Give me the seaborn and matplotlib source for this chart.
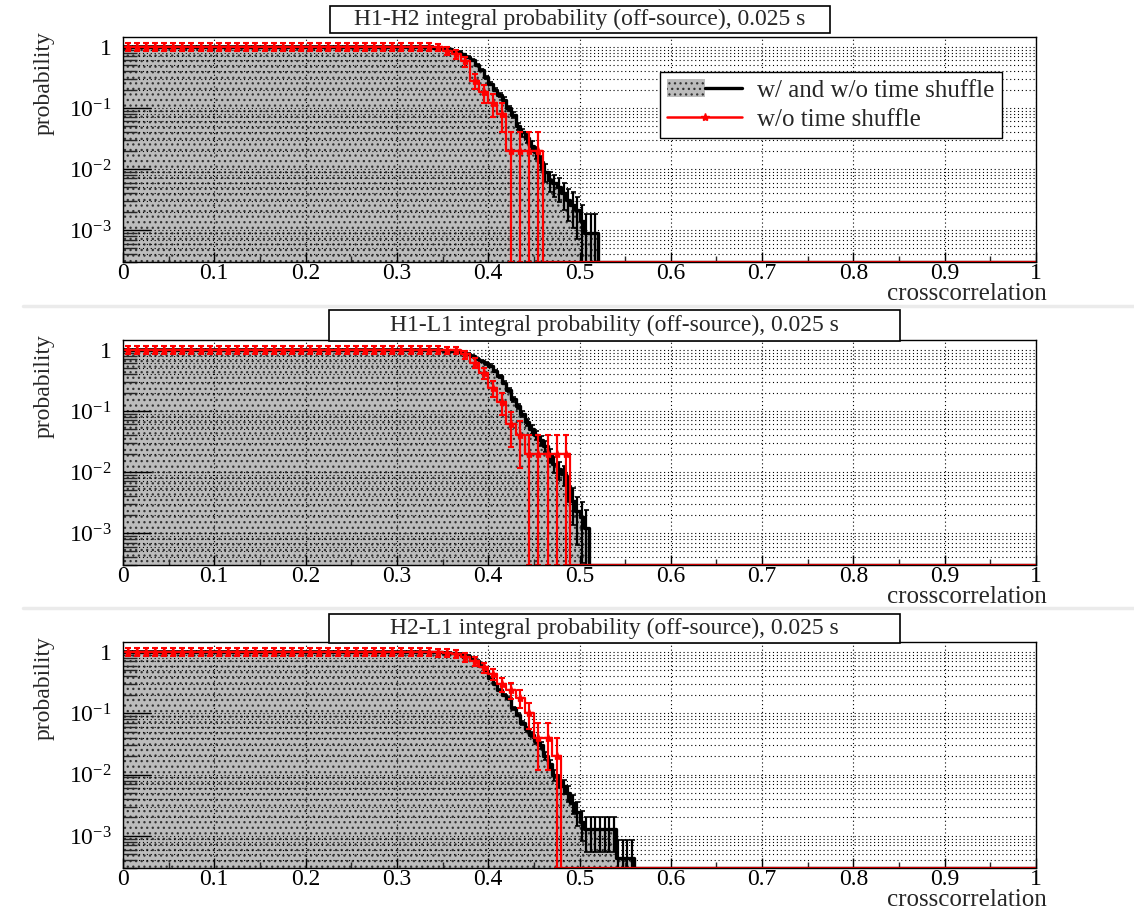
import numpy as np
import pandas as pd
import matplotlib
matplotlib.use("Agg")
import matplotlib.pyplot as plt
import seaborn as sns
from matplotlib.lines import Line2D
from matplotlib.patches import Patch, Rectangle
from matplotlib.legend_handler import HandlerTuple
from matplotlib.ticker import FixedLocator, FixedFormatter, NullFormatter

# ---------------- data ----------------
titles = ["H1-H2 integral probability (off-source), 0.025 s",
          "H1-L1 integral probability (off-source), 0.025 s",
          "H2-L1 integral probability (off-source), 0.025 s"]

x_ticks = [0, 0.1, 0.2, 0.3, 0.4, 0.5, 0.6, 0.7, 0.8, 0.9, 1.0]
x_tick_labels = ["0", "0.1", "0.2", "0.3", "0.4", "0.5", "0.6", "0.7", "0.8", "0.9", "1"]
y_ticks = [1e-3, 1e-2, 1e-1, 1]
y_tick_labels = [r"$\mathregular{10^{-3}}$", r"$\mathregular{10^{-2}}$",
                 r"$\mathregular{10^{-1}}$", "1"]

black_width = 0.005   # bin width of "w/ and w/o time shuffle"
black_start = 0.33    # first listed bin (earlier bins are 1)
red_width = 0.01      # bin width of "w/o time shuffle"
red_start = 0.34

# integral probability, black histogram, bins from 0.33 in steps of 0.005
black_h1h2 = [0.99, 0.985, 0.975, 0.96, 0.94, 0.91, 0.87, 0.82, 0.75, 0.68,
              0.62, 0.50, 0.42, 0.32, 0.25, 0.20, 0.165, 0.137, 0.10, 0.078,
              0.050, 0.040, 0.032, 0.024, 0.019, 0.013, 0.009, 0.0066, 0.0058, 0.005,
              0.004, 0.0031, 0.0026, 0.0021, 0.0014, 0.0009, 0.0009, 0.0009]
black_h1l1 = [0.995, 0.99, 0.985, 0.98, 0.975, 0.965, 0.955, 0.93, 0.90, 0.85,
              0.80, 0.72, 0.66, 0.60, 0.55, 0.45, 0.37, 0.29, 0.22, 0.155,
              0.12, 0.09, 0.065, 0.05, 0.04, 0.033, 0.027, 0.019, 0.0135, 0.011,
              0.0093, 0.0059, 0.0034, 0.0023, 0.0018, 0.0012]
black_h2l1 = [0.995, 0.993, 0.99, 0.985, 0.975, 0.965, 0.95, 0.93, 0.90, 0.86,
              0.80, 0.72, 0.60, 0.48, 0.38, 0.30, 0.24, 0.20, 0.175, 0.12,
              0.095, 0.07, 0.055, 0.045, 0.035, 0.03, 0.02, 0.015, 0.01, 0.008,
              0.0065, 0.005, 0.0035, 0.0025, 0.0017, 0.0013, 0.0013, 0.0013, 0.0013, 0.0013,
              0.0013, 0.0013, 0.00043, 0.00043, 0.00043, 0.00043]

# integral probability, red histogram, bins from 0.34 in steps of 0.01
red_h1h2 = [0.98, 0.86, 0.76, 0.58, 0.28, 0.18, 0.12, 0.08, 0.02, 0.02, 0.02, 0.02]
red_h1l1 = [1.0, 0.98, 0.98, 0.84, 0.62, 0.42, 0.24, 0.14, 0.06, 0.04,
            0.02, 0.02, 0.02, 0.02, 0.02]
red_h2l1 = [0.98, 0.97, 0.94, 0.82, 0.72, 0.56, 0.44, 0.30, 0.24, 0.18,
            0.10, 0.04, 0.04, 0.02]

# number of entries (for Poisson error bars)
n_black = [1100, 830, 2300]
n_red = [50, 50, 50]

black_sets = [black_h1h2, black_h1l1, black_h2l1]
red_sets = [red_h1h2, red_h1l1, red_h2l1]

YMIN, YMAX = 3e-4, 1.45

# ---------------- style ----------------
sns.set_theme(style="white")
plt.rcParams["font.family"] = ["Liberation Serif", "DejaVu Serif"]
plt.rcParams["mathtext.default"] = "regular"
plt.rcParams["hatch.linewidth"] = 0.9

FILL_FC, FILL_EC = "#bcbcbc", "#333333"

fig = plt.figure(figsize=(11.34, 9.10), dpi=100)

W, H = 1134.0, 910.0
frames = [(37, 262), (340, 565), (642, 868)]
title_boxes = [(330, 6, 830, 33), (329, 310, 900, 341), (329, 614, 900, 643)]
left_px, right_px = 123, 1036


def full_hist(vals, width, start):
    edges = np.round(np.arange(0, 1 + width / 2, width), 4)
    nb = len(edges) - 1
    y = np.zeros(nb)
    i0 = int(round(start / width))
    y[:i0] = 1.0
    y[i0:i0 + len(vals)] = vals
    return edges, y


# separators between panels (drawn beneath the axes texts)
for yy in (306, 608):
    fig.add_artist(Line2D([0.02, 1.0], [1 - yy / H, 1 - yy / H],
                          transform=fig.transFigure, color="#ebebeb",
                          linewidth=2.5, zorder=-5))

for k in range(3):
    top, bot = frames[k]
    ax = fig.add_axes([left_px / W, 1 - bot / H, (right_px - left_px) / W, (bot - top) / H])
    ax.set_yscale("log")
    ax.patch.set_alpha(0)

    # black histogram
    be, bv = full_hist(black_sets[k], black_width, black_start)
    bvp = np.maximum(bv, YMIN)
    dfb = pd.DataFrame({"x": be, "p": np.append(bvp, bvp[-1])})
    ax.fill_between(dfb["x"], YMIN, dfb["p"], step="post", facecolor=FILL_FC,
                    edgecolor=FILL_EC, hatch="...", linewidth=0, zorder=1)
    sns.lineplot(data=dfb, x="x", y="p", drawstyle="steps-post", color="black",
                 linewidth=2.4, estimator=None, ax=ax, zorder=3)
    bc = (be[:-1] + be[1:]) / 2
    m = bv > 0
    berr = np.sqrt(bv[m] / n_black[k])
    blo = np.where(bv[m] - berr <= YMIN, bv[m] - YMIN * 0.999, berr)
    ax.errorbar(bc[m], bv[m], yerr=[blo, berr], fmt="none", ecolor="black",
                elinewidth=1.6, capsize=1.8, capthick=1.2, zorder=3)

    # red histogram
    re_, rv = full_hist(red_sets[k], red_width, red_start)
    rvp = np.maximum(rv, YMIN)
    dfr = pd.DataFrame({"x": re_, "p": np.append(rvp, rvp[-1])})
    sns.lineplot(data=dfr, x="x", y="p", drawstyle="steps-post", color="#ff0000",
                 linewidth=1.6, estimator=None, ax=ax, zorder=4)
    rc = (re_[:-1] + re_[1:]) / 2
    mr = rv > 0
    rerr = np.sqrt(rv[mr] / n_red[k])
    rlo = np.where(rv[mr] - rerr <= YMIN, rv[mr] - YMIN * 0.999, rerr)
    ax.errorbar(rc[mr], rv[mr], yerr=[rlo, rerr], fmt="*", color="#ff0000",
                ms=6, ecolor="#ff0000", elinewidth=1.6, capsize=2.5, capthick=1.5,
                zorder=5)

    ax.set_xlim(0, 1)
    ax.set_ylim(YMIN, YMAX)
    ax.set_xlabel("")
    ax.set_ylabel("")

    ax.xaxis.set_major_locator(FixedLocator(x_ticks))
    ax.xaxis.set_major_formatter(FixedFormatter(x_tick_labels))
    ax.xaxis.set_minor_locator(FixedLocator(np.arange(0.05, 1.0, 0.1)))
    ax.yaxis.set_major_locator(FixedLocator(y_ticks))
    ax.yaxis.set_major_formatter(FixedFormatter(y_tick_labels))
    minors = [m_ * 10.0 ** e for e in range(-4, 1) for m_ in range(2, 10)]
    ax.yaxis.set_minor_locator(FixedLocator(minors))
    ax.yaxis.set_minor_formatter(NullFormatter())

    ax.tick_params(axis="x", which="major", direction="in", length=7, width=1,
                   labelsize=17, pad=1, bottom=True, top=False, colors="black")
    ax.tick_params(axis="x", which="minor", direction="in", length=4, width=1,
                   bottom=True, top=False)
    ax.tick_params(axis="y", which="major", direction="in", length=20, width=1,
                   labelsize=17, pad=8, left=True, right=False, colors="black")
    ax.tick_params(axis="y", which="minor", direction="in", length=10, width=1,
                   left=True, right=False)

    ax.grid(True, which="major", axis="x", color="black", linestyle=(0, (1, 2.5)),
            linewidth=0.8)
    ax.grid(True, which="both", axis="y", color="black", linestyle=(0, (1, 2.5)),
            linewidth=0.8)
    ax.set_axisbelow(False)

    for s in ax.spines.values():
        s.set_color("black")
        s.set_linewidth(1.0)
        s.set_zorder(6)

    ax.text(1.012, -0.095, "crosscorrelation", transform=ax.transAxes,
            ha="right", va="top", fontsize=18)
    ax.text(-0.086, 1.025, "probability", transform=ax.transAxes, rotation=90,
            ha="center", va="top", fontsize=17)

    # title box
    x0, y0, x1, y1 = title_boxes[k]
    fig.add_artist(Rectangle((x0 / W, 1 - y1 / H), (x1 - x0) / W, (y1 - y0) / H,
                             transform=fig.transFigure, facecolor="white",
                             edgecolor="black", linewidth=1.2, zorder=10))
    fig.text((x0 + x1) / 2 / W, 1 - (y0 + y1) / 2 / H, titles[k], ha="center",
             va="center", fontsize=17, zorder=11)

    if k == 0:
        h1 = (Patch(facecolor=FILL_FC, edgecolor=FILL_EC, hatch="...", linewidth=0),
              Line2D([], [], color="black", linewidth=2.4))
        h2 = Line2D([], [], color="#ff0000", linewidth=1.8, marker="*", ms=6)
        leg = ax.legend([h1, h2], ["w/ and w/o time shuffle", "w/o time shuffle"],
                        handler_map={tuple: HandlerTuple(ndivide=None, pad=0)},
                        loc="upper left", bbox_to_anchor=(0.588, 0.845),
                        borderaxespad=0, frameon=True, fancybox=False,
                        edgecolor="black", framealpha=1, fontsize=18,
                        handlelength=3.0, borderpad=0.3, labelspacing=0.25,
                        handletextpad=0.6)
        leg.get_frame().set_linewidth(1.0)
        leg.set_zorder(8)

fig.savefig("out.png", dpi=100)
